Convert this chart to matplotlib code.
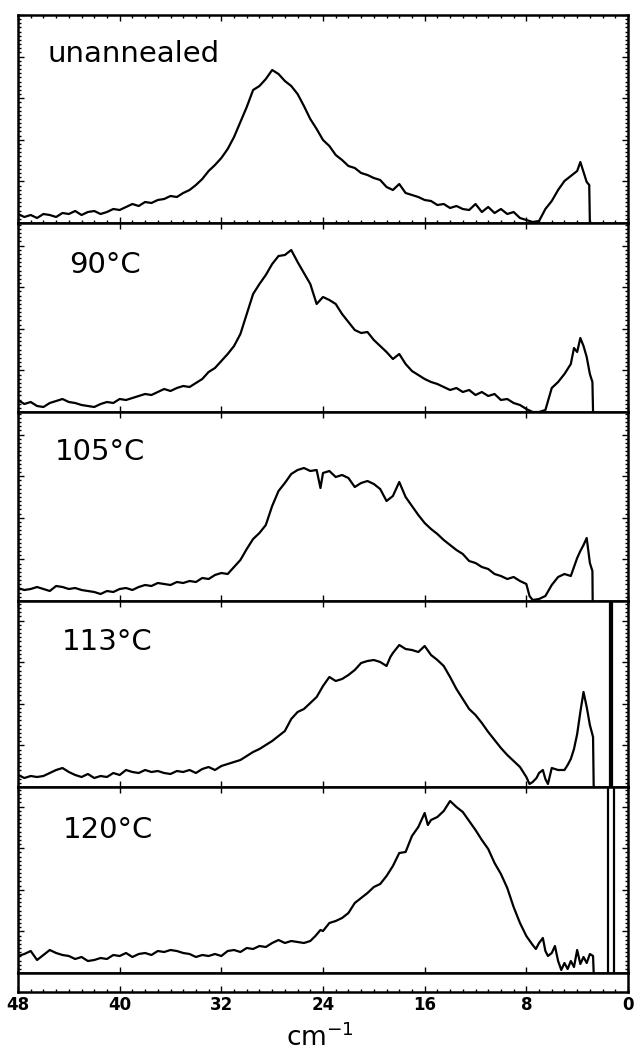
import matplotlib.pyplot as plt
from matplotlib.ticker import MultipleLocator, NullLocator

# low-frequency Raman spectra, wavenumber (cm-1) vs intensity (arb. units)
wn_unannealed = [48, 47.5, 47, 46.5, 46, 45.5, 45, 44.5, 44, 43.5, 43, 42.5, 42, 41.5, 41, 40.5, 40,
                 39.5, 39, 38.5, 38, 37.5, 37, 36.5, 36, 35.5, 35, 34.5, 34, 33.5, 33, 32.5, 32, 31.5,
                 31, 30.5, 30, 29.5, 29, 28.5, 28, 27.5, 27, 26.5, 26, 25.5, 25, 24.5, 24, 23.5, 23,
                 22.5, 22, 21.5, 21, 20.5, 20, 19.5, 19, 18.5, 18, 17.5, 17, 16.5, 16, 15.5, 15, 14.5,
                 14, 13.5, 13, 12.5, 12, 11.5, 11, 10.5, 10, 9.5, 9, 8.5, 8, 7.5, 7, 6.5, 6, 5.5, 5,
                 4.5, 4, 3.75, 3.5, 3.25, 3.05, 3.0]
int_unannealed = [9, 6, 8, 5, 9, 8, 6, 10, 9, 12, 8, 11, 12, 9, 11, 14, 13,
                  16, 19, 17, 21, 20, 23, 24, 27, 26, 30, 33, 38, 44, 52, 58, 65, 74,
                  86, 101, 116, 133, 137, 144, 153, 149, 142, 137, 129, 117, 104, 94, 83, 77, 68,
                  63, 57, 55, 50, 48, 45, 43, 36, 33, 39, 30, 28, 26, 23, 22, 18, 19,
                  15, 17, 14, 13, 19, 11, 16, 10, 14, 9, 11, 5, 3, 1, 2, 14, 22, 33, 42,
                  47, 52, 61, 51, 41, 38, 0]

wn_90 = [48, 47.5, 47, 46.5, 46, 45.5, 45, 44.5, 44, 43.5, 43, 42.5, 42, 41.5, 41, 40.5, 40,
         39.5, 39, 38.5, 38, 37.5, 37, 36.5, 36, 35.5, 35, 34.5, 34, 33.5, 33, 32.5, 32, 31.5,
         31, 30.5, 30, 29.5, 29, 28.5, 28, 27.5, 27, 26.5, 26, 25.5, 25, 24.5, 24, 23.5, 23,
         22.5, 22, 21.5, 21, 20.5, 20, 19.5, 19, 18.5, 18, 17.5, 17, 16.5, 16, 15.5, 15, 14.5,
         14, 13.5, 13, 12.5, 12, 11.5, 11, 10.5, 10, 9.5, 9, 8.5, 8, 7.5, 7, 6.5, 6, 5.5, 5,
         4.5, 4.25, 4, 3.75, 3.5, 3.25, 3.0, 2.8, 2.75]
int_90 = [12, 8, 10, 6, 5, 9, 11, 13, 10, 9, 7, 6, 5, 8, 10, 9, 13,
          12, 14, 16, 18, 17, 20, 23, 21, 24, 26, 25, 29, 33, 40, 44, 51, 58,
          66, 78, 98, 118, 128, 137, 148, 156, 157, 162, 150, 139, 128, 108, 115, 112, 108,
          98, 90, 82, 79, 80, 72, 66, 60, 53, 58, 48, 41, 37, 33, 30, 28, 25,
          22, 24, 20, 22, 17, 20, 16, 18, 12, 13, 9, 7, 3, 0, 0, 2, 24, 30, 38,
          48, 64, 60, 74, 66, 55, 38, 30, 0]

wn_105 = [48, 47.5, 47, 46.5, 46, 45.5, 45, 44.5, 44, 43.5, 43, 42.5, 42, 41.5, 41, 40.5, 40,
          39.5, 39, 38.5, 38, 37.5, 37, 36.5, 36, 35.5, 35, 34.5, 34, 33.5, 33, 32.5, 32, 31.5,
          31, 30.5, 30, 29.5, 29, 28.5, 28, 27.5, 27, 26.5, 26, 25.5, 25, 24.5, 24.2, 24, 23.5,
          23, 22.5, 22, 21.5, 21, 20.5, 20, 19.5, 19, 18.5, 18, 17.5, 17, 16.5, 16, 15.5, 15,
          14.5, 14, 13.5, 13, 12.5, 12, 11.5, 11, 10.5, 10, 9.5, 9, 8.5, 8, 7.75, 7.5, 7, 6.5,
          6, 5.5, 5, 4.5, 4, 3.75, 3.5, 3.25, 3.0, 2.8, 2.78]
int_105 = [13, 11, 12, 14, 12, 10, 15, 14, 12, 13, 11, 10, 9, 7, 10, 9, 12,
           13, 11, 14, 16, 15, 18, 17, 16, 19, 18, 20, 19, 23, 22, 26, 28, 27,
           34, 41, 52, 62, 68, 76, 95, 110, 118, 127, 131, 133, 130, 131, 113, 128, 130,
           124, 126, 123, 114, 118, 120, 117, 112, 100, 105, 119, 104, 95, 86, 78, 72, 67,
           61, 56, 51, 47, 40, 38, 34, 32, 27, 25, 22, 24, 20, 17, 5, 1, 2, 5,
           16, 24, 27, 25, 43, 50, 56, 63, 38, 30, 0]

wn_113 = [48, 47.5, 47, 46.5, 46, 45.5, 45, 44.5, 44, 43.5, 43, 42.5, 42, 41.5, 41, 40.5, 40,
          39.5, 39, 38.5, 38, 37.5, 37, 36.5, 36, 35.5, 35, 34.5, 34, 33.5, 33, 32.5, 32, 31.5,
          31, 30.5, 30, 29.5, 29, 28.5, 28, 27.5, 27, 26.5, 26, 25.5, 25, 24.5, 24, 23.5, 23,
          22.5, 22, 21.5, 21, 20.5, 20, 19.5, 19, 18.7, 18.5, 18, 17.5, 17, 16.5, 16, 15.5, 15,
          14.5, 14, 13.5, 13, 12.5, 12, 11.5, 11, 10.5, 10, 9.5, 9, 8.5, 8, 7.75, 7.5, 7.2, 7,
          6.7, 6.5, 6.3, 6, 5.5, 5, 4.75, 4.5, 4.25, 4, 3.75, 3.5, 3.25, 3.0, 2.75, 2.7]
int_113 = [12, 9, 11, 10, 11, 14, 17, 19, 15, 12, 10, 13, 9, 11, 10, 14, 12,
           17, 15, 14, 17, 15, 16, 14, 13, 16, 15, 17, 14, 18, 20, 17, 21, 23,
           25, 27, 31, 35, 38, 42, 46, 51, 56, 68, 75, 78, 84, 90, 101, 110, 106,
           108, 112, 117, 124, 126, 127, 125, 121, 130, 134, 142, 138, 137, 135, 141, 132, 127,
           121, 110, 98, 88, 78, 72, 64, 55, 47, 39, 32, 26, 20, 10, 3, 5, 9, 14,
           17, 8, 3, 19, 17, 17, 22, 28, 38, 53, 75, 95, 80, 62, 50, 0]

wn_120 = [48, 47.5, 47, 46.5, 46, 45.5, 45, 44.5, 44, 43.5, 43, 42.5, 42, 41.5, 41, 40.5, 40,
          39.5, 39, 38.5, 38, 37.5, 37, 36.5, 36, 35.5, 35, 34.5, 34, 33.5, 33, 32.5, 32, 31.5,
          31, 30.5, 30, 29.5, 29, 28.5, 28, 27.5, 27, 26.5, 26, 25.5, 25, 24.6, 24.2, 24, 23.5,
          23, 22.5, 22, 21.5, 21, 20.5, 20, 19.5, 19, 18.5, 18, 17.5, 17, 16.5, 16, 15.75, 15.5,
          15, 14.5, 14, 13.5, 13, 12.5, 12, 11.5, 11, 10.5, 10, 9.5, 9, 8.5, 8, 7.5, 7.25, 7,
          6.7, 6.5, 6.3, 6, 5.75, 5.5, 5.25, 5, 4.75, 4.5, 4.25, 4, 3.75, 3.5, 3.25, 3.0, 2.75,
          2.7]
int_120 = [17, 19, 22, 13, 18, 23, 20, 18, 17, 14, 16, 12, 13, 15, 14, 18, 17,
           20, 16, 19, 20, 18, 22, 21, 23, 22, 20, 19, 16, 18, 17, 19, 17, 22,
           23, 21, 25, 24, 27, 26, 30, 33, 30, 32, 31, 30, 32, 37, 43, 42, 50,
           52, 55, 60, 70, 75, 80, 86, 89, 97, 107, 120, 121, 137, 146, 160, 148, 153,
           156, 162, 172, 166, 161, 152, 143, 133, 124, 110, 99, 85, 66, 50, 37, 28, 24, 30,
           35, 22, 17, 20, 27, 12, 3, 10, 4, 12, 6, 23, 9, 16, 10, 19, 17,
           0]

# off-scale laser line near the origin
laser_113 = [1.45, 1.25]
laser_120 = [1.55, 1.1]

labels = ['unannealed', '90°C', '105°C', '113°C', '120°C']
label_x = [0.049, 0.083, 0.060, 0.072, 0.074]
label_y = [0.774, 0.735, 0.746, 0.737, 0.726]
y_top = [208, 189, 189, 186, 186]
x_ticks = [48, 40, 32, 24, 16, 8, 0]

W, H = 636, 1055
LEFT, RIGHT = 18, 628
EDGES = [15, 223, 412, 601, 787, 973, 992]
TICK = 41.6

fig = plt.figure(figsize=(W / 100, H / 100), dpi=100)


def add_panel(top, bottom):
    return fig.add_axes([LEFT / W, 1 - bottom / H, (RIGHT - LEFT) / W, (bottom - top) / H])


def style_frame(ax):
    for sp in ax.spines.values():
        sp.set_linewidth(1.8)
    ax.tick_params(which='both', direction='in', top=True, bottom=True, left=True, right=True,
                   labelleft=False, labelbottom=False, width=1.0)
    ax.tick_params(which='major', length=4)
    ax.tick_params(which='minor', length=2)


series = [(wn_unannealed, int_unannealed), (wn_90, int_90), (wn_105, int_105),
          (wn_113, int_113), (wn_120, int_120)]
lasers = [[], [], [], laser_113, laser_120]

for i, (wn, inten) in enumerate(series):
    ax = add_panel(EDGES[i], EDGES[i + 1])
    ax.plot(wn, inten, color='black', lw=1.6)
    for pos in lasers[i]:
        ax.axvline(pos, color='black', lw=1.6)
    ax.set_xlim(48, 0)
    ax.set_ylim(0, y_top[i])
    ax.xaxis.set_major_locator(MultipleLocator(8))
    if i == 0:
        ax.xaxis.set_minor_locator(MultipleLocator(1))
    else:
        ax.xaxis.set_minor_locator(NullLocator())
    ax.yaxis.set_major_locator(MultipleLocator(TICK))
    ax.yaxis.set_minor_locator(MultipleLocator(TICK / 10))
    style_frame(ax)
    ax.text(label_x[i], label_y[i], labels[i], transform=ax.transAxes, fontsize=21,
            va='baseline', ha='left', color='black')

# thin strip under the last spectrum that carries the wavenumber scale
ax_s = add_panel(EDGES[5], EDGES[6])
ax_s.set_xlim(48, 0)
ax_s.set_ylim(0, 1)
ax_s.set_xticks(x_ticks)
ax_s.xaxis.set_minor_locator(MultipleLocator(1))
ax_s.set_yticks([])
style_frame(ax_s)
ax_s.tick_params(which='both', top=False, labelbottom=True, pad=3)
for lab in ax_s.get_xticklabels():
    lab.set_fontsize(12)
    lab.set_fontweight('bold')

fig.text(0.503, 1 - 1038 / H, 'cm$^{-1}$', ha='center', va='center', fontsize=19)

fig.savefig('out.png', dpi=100)
